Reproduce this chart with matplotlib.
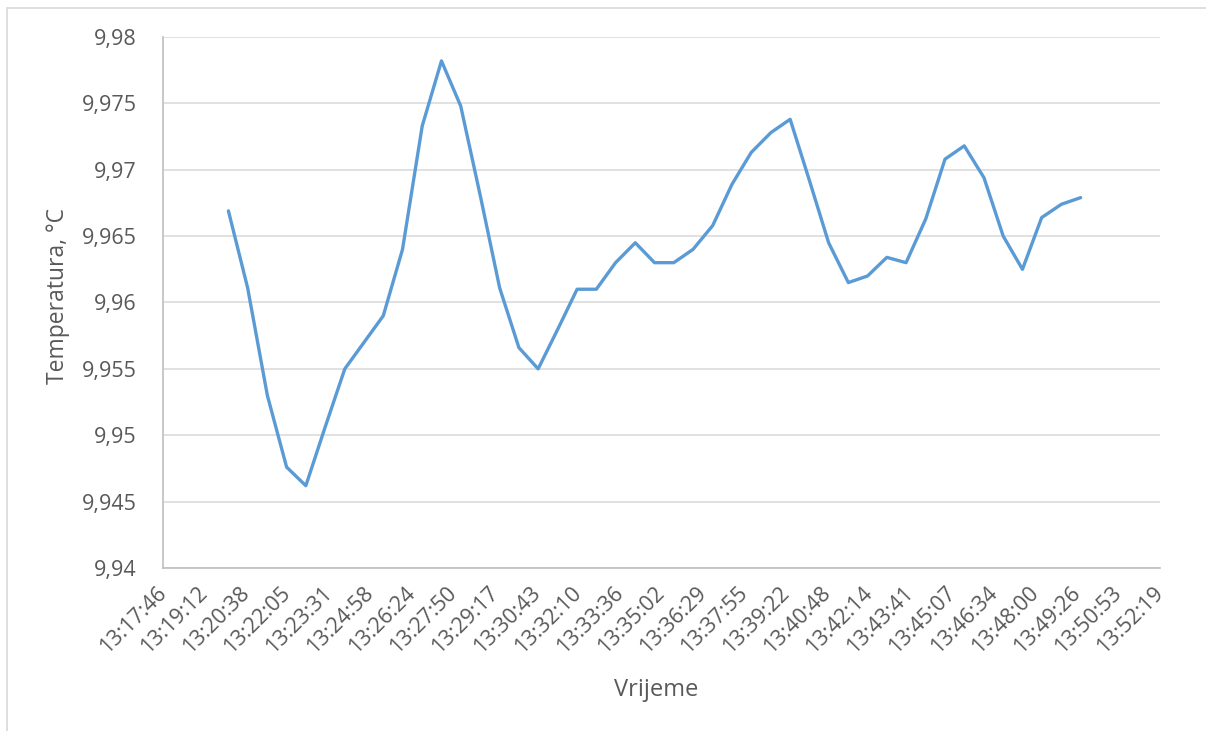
import numpy as np
import matplotlib
matplotlib.use("Agg")
import matplotlib.pyplot as plt
from matplotlib.patches import Rectangle

plt.rcParams['font.family'] = ['Open Sans', 'DejaVu Sans']

# measured temperatures (every ~40 s)
times = ["13:20:02", "13:20:42", "13:21:23", "13:22:03", "13:22:43", "13:23:23",
         "13:24:04", "13:24:44", "13:25:24", "13:26:04", "13:26:45", "13:27:25",
         "13:28:05", "13:28:46", "13:29:26", "13:30:06", "13:30:46", "13:31:27",
         "13:32:07", "13:32:47", "13:33:27", "13:34:08", "13:34:48", "13:35:28",
         "13:36:08", "13:36:49", "13:37:29", "13:38:09", "13:38:50", "13:39:30",
         "13:40:10", "13:40:50", "13:41:31", "13:42:11", "13:42:51", "13:43:31",
         "13:44:12", "13:44:52", "13:45:32", "13:46:13", "13:46:53", "13:47:33",
         "13:48:13", "13:48:54", "13:49:34"]
temps = [9.9669, 9.9611, 9.9530, 9.9476, 9.9462, 9.9506, 9.9550, 9.9570, 9.9590,
         9.9640, 9.9733, 9.9782, 9.9748, 9.9680, 9.9611, 9.9566, 9.9550, 9.9580,
         9.9610, 9.9610, 9.9630, 9.9645, 9.9630, 9.9630, 9.9640, 9.9658, 9.9689,
         9.9713, 9.9728, 9.9738, 9.9692, 9.9645, 9.9615, 9.9620, 9.9634, 9.9630,
         9.9663, 9.9708, 9.9718, 9.9694, 9.9650, 9.9625, 9.9664, 9.9674, 9.9679]

xtick_labels = ["13:17:46", "13:19:12", "13:20:38", "13:22:05", "13:23:31", "13:24:58",
                "13:26:24", "13:27:50", "13:29:17", "13:30:43", "13:32:10", "13:33:36",
                "13:35:02", "13:36:29", "13:37:55", "13:39:22", "13:40:48", "13:42:14",
                "13:43:41", "13:45:07", "13:46:34", "13:48:00", "13:49:26", "13:50:53",
                "13:52:19"]
ytick_vals = [9.94, 9.945, 9.95, 9.955, 9.96, 9.965, 9.97, 9.975, 9.98]
ytick_labels = ["9,94", "9,945", "9,95", "9,955", "9,96", "9,965", "9,97", "9,975", "9,98"]


def to_sec(t):
    h, m, s = map(int, t.split(":"))
    return h * 3600 + m * 60 + s


x = [to_sec(t) for t in times]
x0, x1 = to_sec(xtick_labels[0]), to_sec(xtick_labels[-1])

W, H = 1206, 731
fig = plt.figure(figsize=(W / 100, H / 100), dpi=100)

# outer chart frame
fig.patches.append(Rectangle((7 / W, -0.1), 1.2, 1 - 8 / H + 0.1, transform=fig.transFigure,
                             fill=False, ec="#D9D9D9", lw=1.2))

ax = fig.add_axes([163 / W, 1 - 568 / H, (1160 - 163) / W, (568 - 37) / H])
ax.plot(x, temps, color="#5B9BD5", lw=2.4, solid_joinstyle="round", solid_capstyle="round")

ax.set_xlim(x0, x1)
ax.set_ylim(9.94, 9.98)
ax.set_xticks(np.linspace(x0, x1, len(xtick_labels)))
ax.set_xticklabels(xtick_labels, rotation=45, ha="right", va="center", rotation_mode="anchor")
ax.set_yticks(ytick_vals)
ax.set_yticklabels(ytick_labels)

ax.grid(axis="y", color="#D9D9D9", lw=1.1)
ax.set_axisbelow(True)
for s in ["top", "right"]:
    ax.spines[s].set_visible(False)
for s in ["left", "bottom"]:
    ax.spines[s].set_color("#BFBFBF")
    ax.spines[s].set_linewidth(1.2)

ax.tick_params(axis="both", length=0, labelsize=15.5, colors="#595959")
ax.tick_params(axis="x", pad=16)
ax.tick_params(axis="y", pad=19)

fig.text(58 / W, 1 - 296 / H, "Temperatura, °C", rotation=90, ha="center", va="center",
         fontsize=16.5, color="#595959")
fig.text(656 / W, 1 - 690 / H, "Vrijeme", ha="center", va="center",
         fontsize=17, color="#595959")

fig.savefig("out.png", dpi=100)
